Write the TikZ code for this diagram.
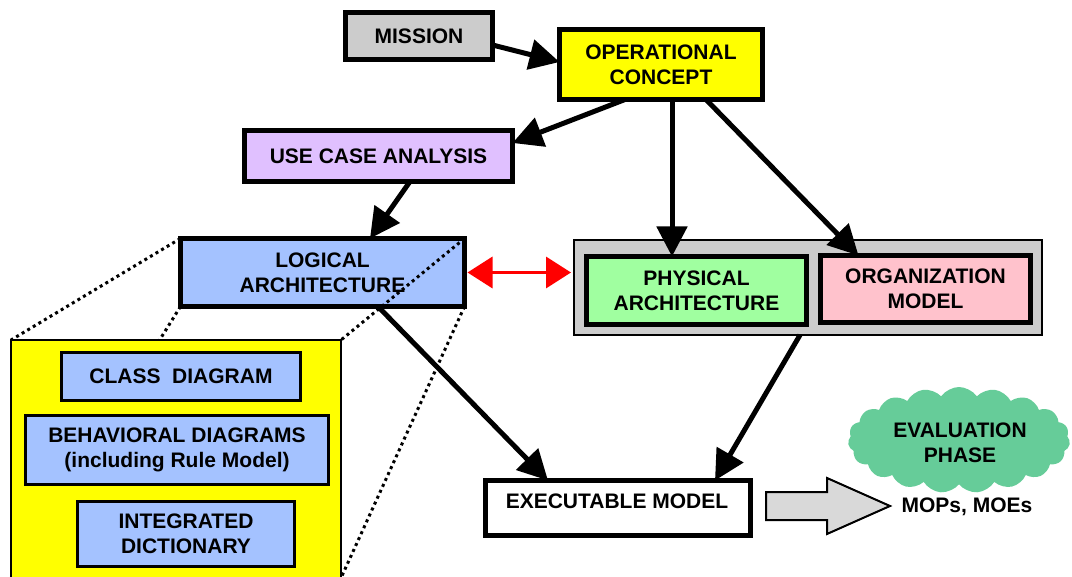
\documentclass[tikz,border=0pt]{standalone}
\usepackage{fontspec}
\setmainfont{Liberation Sans}
\usetikzlibrary{arrows.meta,shapes.symbols,calc}

\definecolor{boxgray}{HTML}{CCCCCC}
\definecolor{opyellow}{HTML}{FFFF00}
\definecolor{ucapurple}{HTML}{E0C0FF}
\definecolor{logblue}{HTML}{A4C2FF}
\definecolor{physgreen}{HTML}{A0FFA0}
\definecolor{orgpink}{HTML}{FFC2CC}
\definecolor{cloudgreen}{HTML}{66CC99}
\definecolor{blockgray}{HTML}{D9D9D9}

\tikzset{
  lbl/.style={font=\fontsize{21}{25}\selectfont\bfseries, align=center},
  mainbox/.style={lbl, draw=black, line width=5pt, rectangle, inner sep=0pt, outer sep=0pt},
  subbox/.style={lbl, draw=black, line width=3pt, rectangle, inner sep=0pt, outer sep=0pt, fill=logblue},
  framebox/.style={draw=black, line width=2pt, rectangle, inner sep=0pt, outer sep=0pt},
  flow/.style={line width=5pt, -{Triangle[length=30pt,width=30pt]}},
  linkred/.style={draw=red, line width=3.5pt, {Triangle[length=25pt,width=31pt]}-{Triangle[length=25pt,width=31pt]}},
  persp/.style={line width=3pt, dash pattern=on 3pt off 3.5pt},
}

\begin{document}
\begin{tikzpicture}[x=1pt, y=-1pt]
\useasboundingbox (0,0) rectangle (1072,577);

% top row
\node[mainbox, fill=boxgray, minimum width=147, minimum height=47] (mission) at (419,36) {MISSION};
\node[mainbox, fill=opyellow, minimum width=203, minimum height=70] (op) at (661,64.5) {OPERATIONAL\\CONCEPT};
\node[mainbox, fill=ucapurple, minimum width=268, minimum height=51] (uca) at (378.5,156) {USE CASE ANALYSIS};

% logical architecture
\node[mainbox, fill=logblue, minimum width=284, minimum height=68] (logical) at (322.5,272.5) {LOGICAL\\ARCHITECTURE};

% corners of the expanded view of the logical architecture
\coordinate (ynw) at (11,340);
\coordinate (yne) at (341,340);
\coordinate (ysw) at (11,578);
\coordinate (yse) at (341,578);

\draw[persp] (logical.north west) -- (ynw);
\draw[persp] (logical.south west) -- (ysw);
\draw[persp] (logical.north east) -- (yne);
\draw[persp] (logical.south east) -- (yse);

% expanded view
\node[framebox, fill=opyellow, minimum width=330, minimum height=242] (detail) at (176,461) {};
\node[subbox, minimum width=239, minimum height=48] (class) at (181,376.5) {CLASS\ \ DIAGRAM};
\node[subbox, minimum width=303, minimum height=69] (behav) at (177,450) {BEHAVIORAL DIAGRAMS\\(including Rule Model)};
\node[subbox, minimum width=217, minimum height=65] (integ) at (186,534) {INTEGRATED\\DICTIONARY};

% physical / organization group
\node[framebox, fill=boxgray, minimum width=468, minimum height=95] (group) at (808,287.5) {};
\node[mainbox, fill=physgreen, minimum width=220, minimum height=68] (phys) at (696.5,290.5) {PHYSICAL\\ARCHITECTURE};
\node[mainbox, fill=orgpink, minimum width=210, minimum height=67] (org) at (925.5,289) {ORGANIZATION\\MODEL};

% executable model
\node[mainbox, fill=white, minimum width=265, minimum height=55] (exec) at (618,508) {};
\node[lbl] (execlbl) at (617,501) {EXECUTABLE MODEL};

% evaluation
\node[cloud, cloud puffs=19, cloud puff arc=110, aspect=2.1, fill=cloudgreen, draw=none,
      minimum width=222, minimum height=106, inner sep=0pt] (eval) at (959,440) {};
\node[lbl] (evallbl) at (960,443) {EVALUATION\\PHASE};
\node[lbl] (mops) at (967,507) {MOPs, MOEs};

% block arrow to the evaluation
\draw[line width=2pt, fill=blockgray]
  (766,492) -- (827,492) -- (827,478) -- (890,506) -- (827,534) -- (827,520) -- (766,520) -- cycle;

% flows
\draw[flow] ([yshift=-9pt]mission.east) -- ([yshift=2.5pt]op.west);
\draw[flow] ([xshift=-36pt]op.south) -- ([yshift=13pt]uca.east);
\draw[flow] ([xshift=11pt]op.south) -- ([xshift=11pt]op.south |- phys.north);
\draw[flow] ([xshift=45pt]op.south) -- ([xshift=-67pt]org.north);
\draw[flow] ([xshift=31.5pt]uca.south) -- ([xshift=47.5pt]logical.north);
\draw[flow] ([xshift=55.5pt]logical.south) -- ([xshift=-70pt]exec.north);
\draw[flow] ([xshift=-8pt]group.south) -- ([xshift=97pt]exec.north);
\draw[linkred] ([xshift=3pt]logical.east) -- ([xshift=-3pt]logical.east -| group.west);
\end{tikzpicture}
\end{document}
